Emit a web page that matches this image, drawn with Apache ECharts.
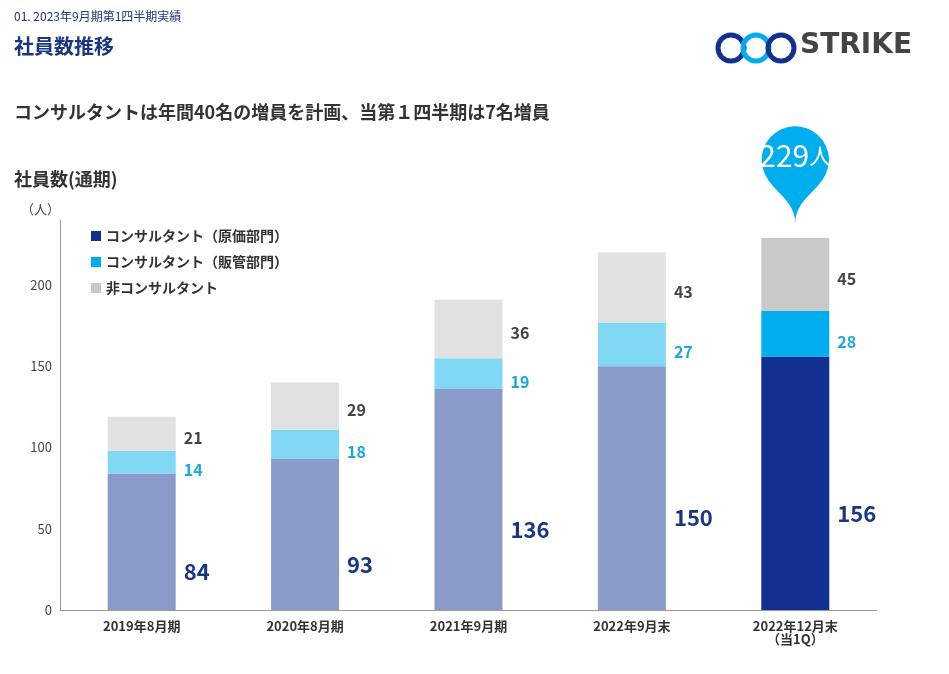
<!DOCTYPE html>
<html><head><meta charset="utf-8">
<script src="https://cdn.jsdelivr.net/npm/echarts@6/dist/echarts.min.js"></script>
<style>html,body{margin:0;background:#fff}#c{width:949px;height:674px}</style>
</head><body><div id="c"></div>
<script>
var categories = ['2019年8月期', '2020年8月期', '2021年9月期', '2022年9月末', '2022年12月末\n（当1Q）'];
var consultGenka = [84, 93, 136, 150, 156];
var consultHankan = [14, 18, 19, 27, 28];
var nonConsult = [21, 29, 36, 43, 45];
var totals = [119, 140, 191, 220, 229];

var dark = ['#8a9bc9', '#8a9bc9', '#8a9bc9', '#8a9bc9', '#12308f'];
var mid = ['#80d8f5', '#80d8f5', '#80d8f5', '#80d8f5', '#00aeef'];
var light = ['#e1e1e1', '#e1e1e1', '#e1e1e1', '#e1e1e1', '#c9c9c9'];
var F = '"Noto Sans CJK JP", "Noto Sans", sans-serif';

function seg(arr, colors) {
  return arr.map(function (v, i) { return { value: v, itemStyle: { color: colors[i] } }; });
}

var myChart = echarts.init(document.getElementById('c'));
var option = {
  textStyle: { fontFamily: F },
  animation: false,
  grid: { left: 60, right: 72, top: 220, bottom: 64 },
  legend: {
    orient: 'vertical', left: 86, top: 224, itemGap: 12, itemWidth: 10, itemHeight: 10,
    icon: 'rect', textStyle: { fontSize: 14, color: '#333', fontWeight: 'bold' },
    data: [
      { name: 'コンサルタント（原価部門）', itemStyle: { color: '#12308f' } },
      { name: 'コンサルタント（販管部門）', itemStyle: { color: '#00aeef' } },
      { name: '非コンサルタント', itemStyle: { color: '#c9c9c9' } }
    ]
  },
  xAxis: {
    type: 'category', data: categories,
    axisLine: { lineStyle: { color: '#999' } }, axisTick: { show: false },
    axisLabel: { fontSize: 13, color: '#333', fontWeight: 'bold', margin: 10 }
  },
  yAxis: {
    type: 'value', min: 0, max: 240, interval: 50, name: '（人）',
    nameLocation: 'end', nameGap: 4, nameTextStyle: { color: '#444', fontSize: 13, align: 'right' },
    splitLine: { show: false }, axisLine: { show: true, lineStyle: { color: '#999' } },
    axisTick: { show: false },
    axisLabel: { color: '#444', fontSize: 13, formatter: function (v) { return v % 50 === 0 ? v : ''; } }
  },
  series: [
    { name: 'コンサルタント（原価部門）', type: 'bar', stack: 's', barWidth: 68, data: seg(consultGenka, dark),
      label: { show: true, position: 'right', distance: 8, fontSize: 22, fontWeight: 'bold', color: '#1b3585', offset: [0, 30] } },
    { name: 'コンサルタント（販管部門）', type: 'bar', stack: 's', data: seg(consultHankan, mid),
      label: { show: true, position: 'right', distance: 8, fontSize: 16, fontWeight: 'bold', color: '#1aa7e0', offset: [0, 8] } },
    { name: '非コンサルタント', type: 'bar', stack: 's', data: seg(nonConsult, light),
      label: { show: true, position: 'right', distance: 8, fontSize: 16, fontWeight: 'bold', color: '#444', offset: [0, 4] } },
    { name: 'total', type: 'line', data: totals.map(function (v, i) { return i < 4 ? v : { value: v, label: { show: false } }; }),
      symbol: 'none', lineStyle: { opacity: 0 }, silent: true,
      label: { show: true, position: 'top', distance: 3, fontSize: 18, fontWeight: 'bold', color: '#333' },
      markPoint: {
        symbol: 'pin', symbolSize: 112, symbolOffset: [0, -14],
        itemStyle: { color: '#00aeef' },
        label: { show: true, offset: [0, -10],
          formatter: '{a|229}{b|人}',
          rich: { a: { fontSize: 30, color: '#fff', fontFamily: F }, b: { fontSize: 22, color: '#fff', fontFamily: F } } },
        data: [{ coord: [4, 229] }]
      }
    }
  ],
  graphic: [
    { type: 'text', left: 14, top: 10, style: { text: '01. 2023年9月期第1四半期実績', fontSize: 12, fill: '#1b3585', fontFamily: F } },
    { type: 'text', left: 14, top: 36, style: { text: '社員数推移', fontSize: 20, fontWeight: 'bold', fill: '#1b3585', fontFamily: F } },
    { type: 'text', left: 14, top: 103, style: { text: 'コンサルタントは年間40名の増員を計画、当第１四半期は7名増員', fontSize: 18, fontWeight: 'bold', fill: '#333', fontFamily: F } },
    { type: 'text', left: 14, top: 170, style: { text: '社員数(通期)', fontSize: 18, fontWeight: 'bold', fill: '#333', fontFamily: F } },
    { type: 'circle', shape: { cx: 731, cy: 48, r: 13 }, style: { fill: 'none', stroke: '#12308f', lineWidth: 5 } },
    { type: 'circle', shape: { cx: 756, cy: 48, r: 13 }, style: { fill: 'none', stroke: '#00aeef', lineWidth: 5 } },
    { type: 'circle', shape: { cx: 781, cy: 48, r: 13 }, style: { fill: 'none', stroke: '#12308f', lineWidth: 5 } },
    { type: 'text', left: 800, top: 32, style: { text: 'STRIKE', fontSize: 28, fontWeight: 'bold', fill: '#444', fontFamily: 'DejaVu Sans' } }
  ]
};
option && myChart.setOption(option);
</script></body></html>
